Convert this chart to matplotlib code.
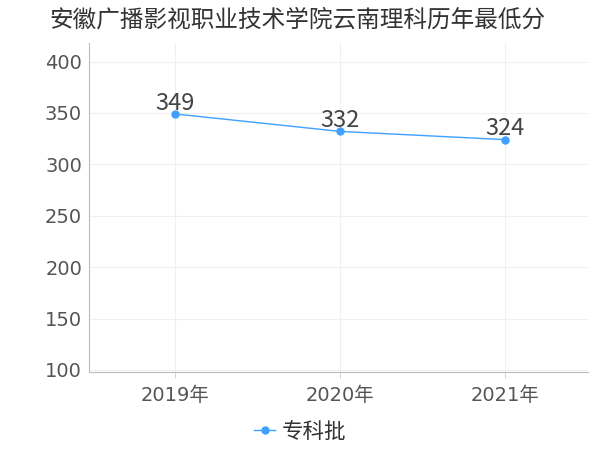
import matplotlib
matplotlib.use("Agg")
import matplotlib.pyplot as plt

plt.rcParams['font.family'] = ['DejaVu Sans', 'Noto Sans CJK SC']

title = "安徽广播影视职业技术学院云南理科历年最低分"
years = ["2019年", "2020年", "2021年"]
scores = [349, 332, 324]
series_name = "专科批"
yticks = [100, 150, 200, 250, 300, 350, 400]

color = "#3fa0ff"
cjk = ['Noto Sans CJK SC', 'DejaVu Sans']
fig = plt.figure(figsize=(6, 4.5), dpi=100)
ax = fig.add_axes([89/600, 1-372/450, (588-89)/600, (372-43)/450])
x = list(range(len(years)))
ax.plot(x, scores, color=color, lw=1, marker='o', ms=5, label=series_name)
for xi, v in zip(x, scores):
    ax.annotate(str(v), (xi, v), xytext=(0, 3), textcoords='offset points',
                ha='center', va='baseline', fontsize=17, color='#444444', family=cjk)
ax.set_xlim(-0.52, 2.5)
ax.set_ylim(98, 418)
ax.set_yticks(yticks)
ax.set_xticks(x)
ax.set_xticklabels(years)
ax.tick_params(axis='both', labelsize=14, colors='#555555', length=4, width=0.6)
ax.tick_params(axis='y', length=0, pad=5)
ax.tick_params(axis='x', pad=6, color='#cccccc')
for lab in ax.get_yticklabels() + ax.get_xticklabels():
    lab.set_color('#555555')
ax.grid(True, color='#f0f0f0', lw=0.8)
for s in ['top', 'right']:
    ax.spines[s].set_visible(False)
ax.spines['left'].set_color('#bbbbbb')
ax.spines['bottom'].set_color('#bbbbbb')
ax.set_axisbelow(True)
fig.text(297/600, 1-20/450, title, ha='center', va='center', fontsize=17,
         color='#333333', family=cjk)
leg = fig.legend(loc='center', bbox_to_anchor=(0.5, 1-432/450), frameon=False,
                 prop={'family': cjk, 'size': 15.5},
                 handlelength=1.0, handletextpad=0.3)
for t in leg.get_texts():
    t.set_color('#333333')
fig.savefig("out.png", dpi=100)
